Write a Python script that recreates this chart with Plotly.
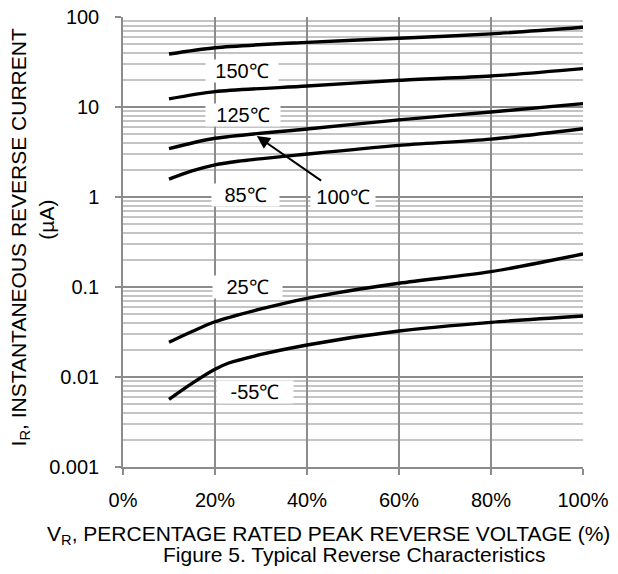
import numpy as np
import plotly.graph_objects as go

# Data (x = % rated peak reverse voltage, y = reverse current in µA)
x_pct = [10, 20, 40, 60, 80, 100]
i_150 = [38.8, 45.6, 52.3, 58.0, 65.0, 76.8]
i_125 = [12.3, 14.8, 17.1, 19.8, 22.1, 26.7]
i_100 = [3.44, 4.49, 5.7, 7.2, 8.8, 10.9]
x_85 = [10, 15, 20, 25, 40, 60, 80, 100]
i_85 = [1.58, 1.95, 2.28, 2.5, 3.0, 3.75, 4.4, 5.74]
x_25 = [10, 15, 20, 30, 40, 60, 80, 100]
i_25 = [0.0243, 0.032, 0.0411, 0.057, 0.0749, 0.110, 0.148, 0.233]
x_m55 = [10, 15, 20, 23, 30, 40, 60, 80, 100]
i_m55 = [0.00565, 0.0085, 0.0122, 0.0143, 0.0178, 0.0227, 0.0324, 0.0405, 0.0476]

series = [
    ("150℃", x_pct, i_150),
    ("125℃", x_pct, i_125),
    ("100℃", x_pct, i_100),
    ("85℃", x_85, i_85),
    ("25℃", x_25, i_25),
    ("-55℃", x_m55, i_m55),
]

# label positions (x %, y value)
label_text = ["150℃", "125℃", "85℃", "100℃", "25℃", "-55℃"]
label_x = [25.9, 26.1, 26.6, 47.8, 27.1, 28.7]
label_y = [25.1, 8.15, 1.05, 1.0, 0.1, 0.0068]
label_w = [72, 74, 67, 64, 69, 76]
arrow_head = (29.1, 4.76)
arrow_tail = (43.4, 1.48)

x_ticks = [0, 20, 40, 60, 80, 100]
x_ticktext = ["0%", "20%", "40%", "60%", "80%", "100%"]
y_ticks = [0.001, 0.01, 0.1, 1, 10, 100]
y_ticktext = ["0.001", "0.01", "0.1", "1", "10", "100"]

FONT = "Liberation Sans, Arial, sans-serif"
GRID = "#8c8c8c"

fig = go.Figure()
for name, xs, ys in series:
    fig.add_trace(go.Scatter(x=xs, y=ys, mode="lines", name=name,
                             line=dict(color="black", width=3.4, shape="spline", smoothing=0.8),
                             showlegend=False, hoverinfo="skip"))

for t, lx, ly, w in zip(label_text, label_x, label_y, label_w):
    fig.add_annotation(x=lx, y=np.log10(ly), text=t, showarrow=False,
                       font=dict(family=FONT, size=20, color="black"),
                       bgcolor="white", borderpad=0, width=w, height=22)

fig.add_annotation(x=arrow_head[0], y=np.log10(arrow_head[1]),
                   ax=arrow_tail[0], ay=np.log10(arrow_tail[1]),
                   axref="x", ayref="y", xref="x", yref="y",
                   text="", showarrow=True, arrowhead=2, arrowsize=1.3,
                   arrowwidth=2, arrowcolor="black")

fig.add_annotation(xref="paper", yref="paper", x=0.446, y=-0.150,
                   text="V<sub>R</sub>, PERCENTAGE RATED PEAK REVERSE VOLTAGE (%)",
                   showarrow=False, font=dict(family=FONT, size=21, color="black"),
                   xanchor="center", yanchor="middle")
fig.add_annotation(xref="paper", yref="paper", x=0.503, y=-0.194,
                   text="Figure 5. Typical Reverse Characteristics",
                   showarrow=False, font=dict(family=FONT, size=21, color="black"),
                   xanchor="center", yanchor="middle")
fig.add_annotation(xref="paper", yref="paper", x=-0.225, y=0.509,
                   text="I<sub>R</sub>, INSTANTANEOUS REVERSE CURRENT",
                   textangle=-90, showarrow=False,
                   font=dict(family=FONT, size=21, color="black"),
                   xanchor="center", yanchor="middle")
fig.add_annotation(xref="paper", yref="paper", x=-0.167, y=0.55,
                   text="(µA)",
                   textangle=-90, showarrow=False,
                   font=dict(family=FONT, size=21, color="black"),
                   xanchor="center", yanchor="middle")

fig.update_xaxes(range=[0, 100], tickvals=x_ticks, ticktext=x_ticktext,
                 showgrid=True, gridcolor=GRID, gridwidth=1.5,
                 showline=True, linecolor=GRID, linewidth=1.5,
                 ticks="outside", ticklen=6, tickcolor=GRID, tickwidth=1.5,
                 ticklabelstandoff=8, ticklabeloverflow="allow", automargin=False,
                 tickfont=dict(family=FONT, size=20, color="black"),
                 zeroline=False)
fig.update_yaxes(type="log", range=[-3, 2], tickvals=y_ticks, ticktext=y_ticktext,
                 showgrid=True, gridcolor=GRID, gridwidth=1.5,
                 showline=True, linecolor=GRID, linewidth=1.5,
                 ticks="outside", ticklen=6, tickcolor=GRID, tickwidth=1.5,
                 ticklabelstandoff=12, ticklabeloverflow="allow", automargin=False,
                 minor=dict(dtick="D1", showgrid=True, gridcolor="#c4c4c4", gridwidth=1.5,
                            ticks=""),
                 tickfont=dict(family=FONT, size=20, color="black"),
                 zeroline=False)

fig.update_layout(width=610, height=566, margin=dict(l=115, r=35, t=9, b=107),
                  plot_bgcolor="white", paper_bgcolor="white")

fig.write_html("out.html")
